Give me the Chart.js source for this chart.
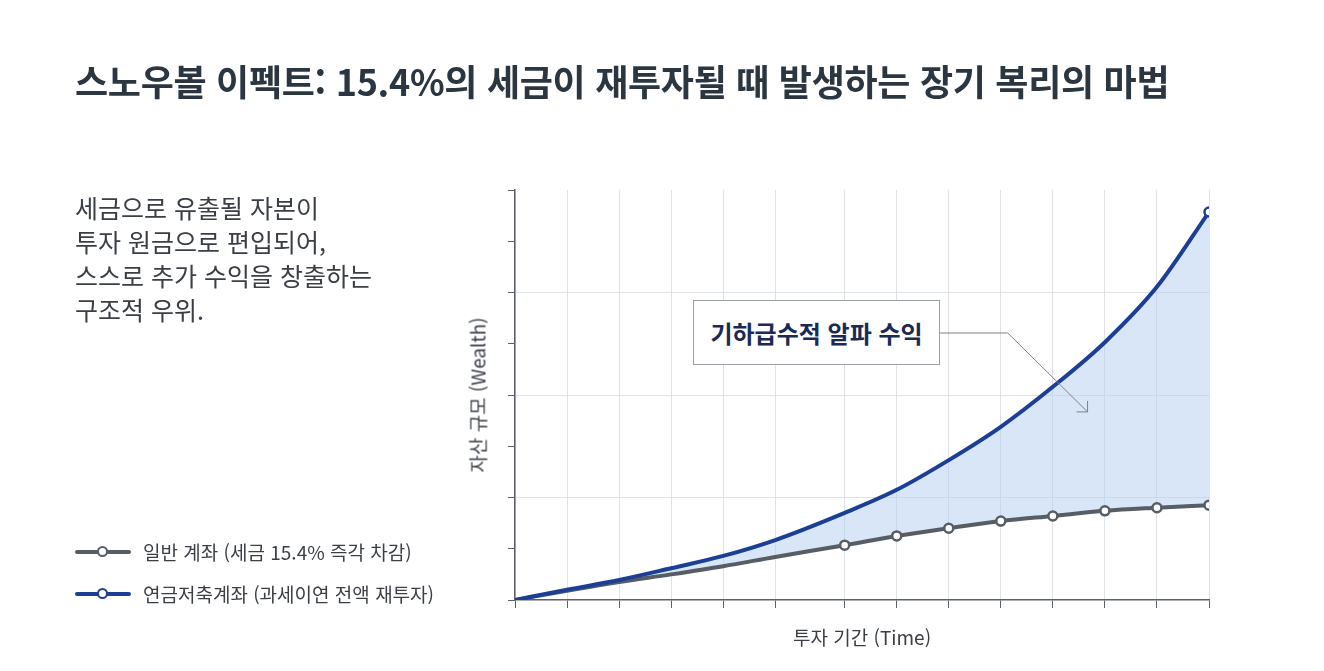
<!DOCTYPE html>
<html lang="ko">
<head>
<meta charset="utf-8">
<title>스노우볼 이펙트</title>
<script src="https://cdn.jsdelivr.net/npm/chart.js@4.4.1/dist/chart.umd.min.js"></script>
<style>
    body { margin: 0; background: #fff; font-family: "Noto Sans CJK KR", "Noto Sans", sans-serif; }
    #page { position: relative; width: 1324px; height: 671px; overflow: hidden; }
    #chartBox { position: absolute; left: 0; top: 0; width: 1324px; height: 671px; }
    h1 { position: absolute; left: 75px; top: 54px; margin: 0; font-size: 36px; font-weight: 700; color: #2c3640; line-height: 52px; white-space: nowrap; letter-spacing: -0.3px; }
    .desc { position: absolute; left: 75px; top: 190px; font-size: 25px; line-height: 34px; color: #3a3f46; }
    .legend { position: absolute; left: 75px; font-size: 19px; color: #3a3f46; display: flex; align-items: center; white-space: nowrap; }
    .legend .sym { position: relative; width: 56px; height: 20px; margin-right: 12px; }
    .legend .sym i { position: absolute; left: 0; right: 0; top: 8px; height: 4px; border-radius: 2px; }
    .legend .sym b { position: absolute; left: 22px; top: 4px; width: 7px; height: 7px; border-radius: 50%; background: #fff; border: 2.5px solid; }
    .axisTitle { position: absolute; font-size: 19px; color: #3a3f46; white-space: nowrap; }
    #yTitle { left: 477px; top: 395px; transform: translate(-50%, -50%) rotate(-90deg); }
    #xTitle { left: 862px; top: 636px; transform: translate(-50%, -50%); }
    #callout { position: absolute; box-sizing: border-box; background: #fff; border: 1.5px solid #9aa0a6; display: flex; align-items: center; justify-content: center; font-size: 24px; font-weight: 700; color: #1b2a55; white-space: nowrap; }
</style>
</head>
<body>
<div id="page">
    <div id="chartBox"><canvas id="snowballChart"></canvas></div>
    <h1>스노우볼 이펙트: 15.4%의 세금이 재투자될 때 발생하는 장기 복리의 마법</h1>
    <div class="desc">세금으로 유출될 자본이<br>투자 원금으로 편입되어,<br>스스로 추가 수익을 창출하는<br>구조적 우위.</div>
    <div class="legend" style="top: 538px;"><span class="sym"><i style="background:#565d64"></i><b style="border-color:#565d64"></b></span>일반 계좌 (세금 15.4% 즉각 차감)</div>
    <div class="legend" style="top: 580px;"><span class="sym"><i style="background:#1c3f96"></i><b style="border-color:#1c3f96"></b></span>연금저축계좌 (과세이연 전액 재투자)</div>
    <div class="axisTitle" id="yTitle">자산 규모 (Wealth)</div>
    <div class="axisTitle" id="xTitle">투자 기간 (Time)</div>
    <div id="callout">기하급수적 알파 수익</div>
</div>
<script>
    // investment period (years) at each grid line / data point
    const years = [0, 3, 6, 9, 12, 15, 19, 22, 25, 28, 31, 34, 37, 40];
    // relative wealth
    const pensionWealth = [0, 0.2, 0.39, 0.62, 0.86, 1.17, 1.7, 2.15, 2.73, 3.38, 4.16, 5.03, 6.11, 7.57];
    const taxableWealth = [0, 0.18, 0.35, 0.5, 0.66, 0.84, 1.07, 1.25, 1.4, 1.54, 1.64, 1.74, 1.8, 1.85];
    const wealthTicks = [0, 1, 2, 3, 4, 5, 6, 7, 8];
    const gridWealth = [2, 4, 6];

    // callout box (data units) and leader line: box edge -> elbow -> arrow tip
    const calloutBox = { xMin: 10.26, xMax: 24.5, yMin: 4.59, yMax: 5.85 };
    const leaderPath = [[24.5, 5.21], [28.4, 5.21], [33.0, 3.67]];

    const blue = '#1c3f96';
    const gray = '#565d64';
    const axisColor = '#5a6066';

    function toPoints(values) {
        return years.map((t, i) => ({ x: t, y: values[i] }));
    }

    const calloutPlugin = {
        id: 'callout',
        afterDraw(chart) {
            const { ctx, scales: { x, y } } = chart;
            const box = document.getElementById('callout');
            const left = x.getPixelForValue(calloutBox.xMin);
            const right = x.getPixelForValue(calloutBox.xMax);
            const top = y.getPixelForValue(calloutBox.yMax);
            const bottom = y.getPixelForValue(calloutBox.yMin);
            box.style.left = left + 'px';
            box.style.top = top + 'px';
            box.style.width = (right - left) + 'px';
            box.style.height = (bottom - top) + 'px';

            const pts = leaderPath.map(p => [x.getPixelForValue(p[0]), y.getPixelForValue(p[1])]);
            ctx.save();
            ctx.strokeStyle = '#7d8288';
            ctx.lineWidth = 1;
            ctx.beginPath();
            ctx.moveTo(pts[0][0], pts[0][1]);
            pts.slice(1).forEach(p => ctx.lineTo(p[0], p[1]));
            const tip = pts[pts.length - 1];
            ctx.moveTo(tip[0] - 11, tip[1]);
            ctx.lineTo(tip[0], tip[1]);
            ctx.lineTo(tip[0], tip[1] - 11);
            ctx.stroke();
            ctx.restore();
        }
    };

    new Chart(document.getElementById('snowballChart').getContext('2d'), {
        type: 'line',
        data: {
            datasets: [
                {
                    label: '연금저축계좌 (과세이연 전액 재투자)',
                    data: toPoints(pensionWealth),
                    borderColor: blue,
                    borderWidth: 4,
                    cubicInterpolationMode: 'monotone',
                    fill: { target: 1 },
                    backgroundColor: 'rgba(180, 205, 240, 0.5)',
                    pointRadius: ctx => ctx.dataIndex === years.length - 1 ? 4.5 : 0,
                    pointBackgroundColor: '#fff',
                    pointBorderColor: blue,
                    pointBorderWidth: 2.5
                },
                {
                    label: '일반 계좌 (세금 15.4% 즉각 차감)',
                    data: toPoints(taxableWealth),
                    borderColor: gray,
                    borderWidth: 4,
                    cubicInterpolationMode: 'monotone',
                    fill: false,
                    pointRadius: ctx => ctx.dataIndex >= 6 ? 4.5 : 0,
                    pointBackgroundColor: '#fff',
                    pointBorderColor: gray,
                    pointBorderWidth: 2.5
                }
            ]
        },
        options: {
            responsive: true,
            maintainAspectRatio: false,
            animation: false,
            layout: { padding: { left: 508, top: 190, right: 115, bottom: 63 } },
            plugins: {
                legend: { display: false },
                tooltip: { enabled: false },
                filler: { drawTime: 'beforeDatasetsDraw' }
            },
            scales: {
                x: {
                    type: 'linear',
                    min: 0,
                    max: 40,
                    afterBuildTicks: scale => { scale.ticks = years.map(v => ({ value: v })); },
                    ticks: { display: false },
                    grid: { color: '#dfe3e8', lineWidth: 1, tickColor: axisColor, tickLength: 8 },
                    border: { color: axisColor, width: 1.5 }
                },
                y: {
                    min: 0,
                    max: 8,
                    afterBuildTicks: scale => { scale.ticks = wealthTicks.map(v => ({ value: v })); },
                    ticks: { display: false },
                    grid: {
                        color: ctx => ctx.tick && gridWealth.includes(ctx.tick.value) ? '#dfe3e8' : 'rgba(0,0,0,0)',
                        lineWidth: 1,
                        tickColor: axisColor,
                        tickLength: 7
                    },
                    border: { color: axisColor, width: 1.5 }
                }
            }
        },
        plugins: [calloutPlugin]
    });
</script>
</body>
</html>
